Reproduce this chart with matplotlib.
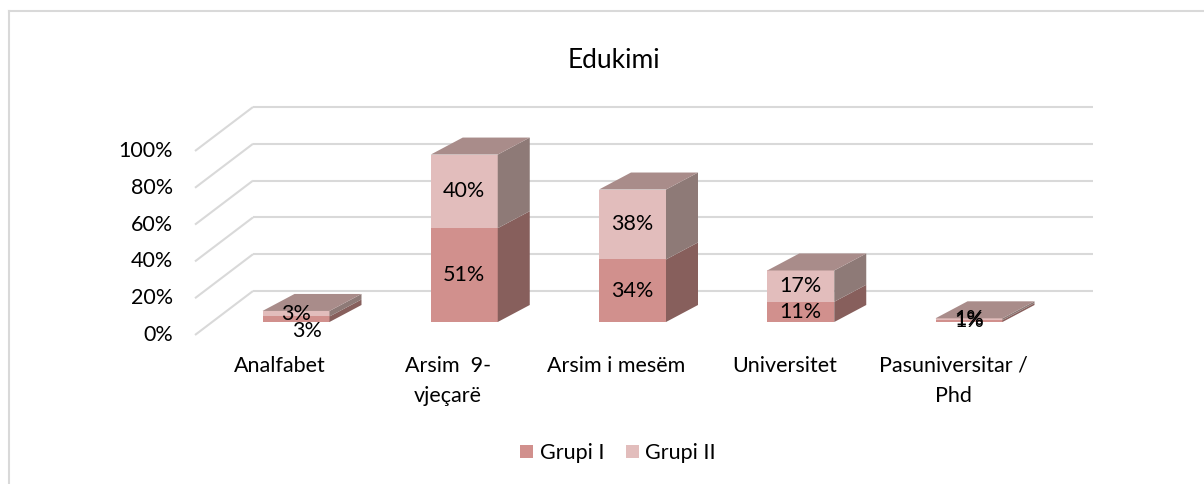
import matplotlib
matplotlib.use('Agg')
import matplotlib.pyplot as plt
from matplotlib.patches import Polygon
from matplotlib.lines import Line2D

plt.rcParams['font.family'] = ['Lato', 'DejaVu Sans']

# data
categories = ['Analfabet', 'Arsim  9-\nvjeçarë', 'Arsim i mesëm', 'Universitet', 'Pasuniversitar /\nPhd']
grupi_1 = [3, 51, 34, 11, 1]
grupi_2 = [3, 40, 38, 17, 1]
yticks = [0, 20, 40, 60, 80, 100]
series_names = ['Grupi I', 'Grupi II']

# layout (pixels)
W, H = 1204, 484
X0, Y0 = 296, 322          # bar front centre of first category / bar base
PX_CAT, PX_PCT = 168.25, 1.84
BAR_W = 67 / PX_CAT
DEPTH = (32, 17)           # bar depth in px
FLOOR_DY = -13             # floor front edge below bar base
WALL_DY = 31               # back wall above bar base
SIDE_LEFT, WALL_LEFT, WALL_RIGHT = 195, 253, 1093
FS = 15.5

c_front = ['#d1908d', '#e2bdbc']
c_side = ['#875f5c', '#8e7a77']
c_top = '#a98c8a'
grid_c = '#d9d9d9'


def px_x(p):
    return (p - X0) / PX_CAT


fig = plt.figure(figsize=(W / 100, H / 100), dpi=100)
ax = fig.add_axes([0, 0, 1, 1])
ax.set_xlim(px_x(0), px_x(W))
ax.set_ylim((Y0 - H) / PX_PCT, Y0 / PX_PCT)
ax.axis('off')

ddx, ddy = DEPTH[0] / PX_CAT, DEPTH[1] / PX_PCT
fdy, wdy = FLOOR_DY / PX_PCT, WALL_DY / PX_PCT

# gridlines on side wall and back wall
for v in yticks:
    ax.plot([px_x(SIDE_LEFT), px_x(WALL_LEFT)], [v + fdy, v + wdy], color=grid_c, lw=1.5, zorder=1,
            solid_capstyle='butt')
    ax.plot([px_x(WALL_LEFT), px_x(WALL_RIGHT)], [v + wdy, v + wdy], color=grid_c, lw=1.5, zorder=1,
            solid_capstyle='butt')
    ax.text(px_x(SIDE_LEFT) - 22 / PX_CAT, v + fdy, f'{v}%', ha='right', va='center', fontsize=FS)

x = list(range(len(categories)))
b1 = ax.bar(x, grupi_1, width=BAR_W, color=c_front[0], linewidth=0, zorder=2, label=series_names[0])
b2 = ax.bar(x, grupi_2, bottom=grupi_1, width=BAR_W, color=c_front[1], linewidth=0, zorder=2,
            label=series_names[1])

for i in x:
    xl, xr = i - BAR_W / 2, i + BAR_W / 2
    segs = [(0, grupi_1[i]), (grupi_1[i], grupi_1[i] + grupi_2[i])]
    for k, (lo, hi) in enumerate(segs):
        ax.add_patch(Polygon([(xr, lo), (xr + ddx, lo + ddy), (xr + ddx, hi + ddy), (xr, hi)],
                             closed=True, facecolor=c_side[k], edgecolor='none', zorder=2))
    top = segs[-1][1]
    ax.add_patch(Polygon([(xl, top), (xr, top), (xr + ddx, top + ddy), (xl + ddx, top + ddy)],
                         closed=True, facecolor=c_top, edgecolor='none', zorder=2))

# data labels (small nudge for the first bar where Excel moved them apart)
nudge = {(0, 0): (11, -12)}
for i in x:
    for k, (lo, val) in enumerate([(0, grupi_1[i]), (grupi_1[i], grupi_2[i])]):
        dx, dy = nudge.get((i, k), (0, 0))
        ax.text(i + dx / PX_CAT, lo + val / 2 + dy / PX_PCT, f'{val}%', ha='center', va='center',
                fontsize=FS, zorder=5)

# category labels at the floor front edge
for i, name in enumerate(categories):
    ax.text(i - 16 / PX_CAT, fdy - 21 / PX_PCT, name, ha='center', va='top', fontsize=FS,
            linespacing=1.65)

fig.text(614 / W, 1 - 60 / H, 'Edukimi', ha='center', va='center', fontsize=19)

fig.legend(handles=[b1, b2], loc='center', bbox_to_anchor=(618 / W, 1 - 453 / H), ncol=2,
           frameon=False, fontsize=FS, handlelength=0.6, handleheight=0.6, handletextpad=0.3,
           columnspacing=1.0)

# outer chart border (top and left visible)
fig.add_artist(Line2D([9 / W, 1], [1 - 11 / H, 1 - 11 / H], color=grid_c, lw=1.5))
fig.add_artist(Line2D([9 / W, 9 / W], [0, 1 - 11 / H], color=grid_c, lw=1.5))

fig.savefig('out.png', dpi=100)
